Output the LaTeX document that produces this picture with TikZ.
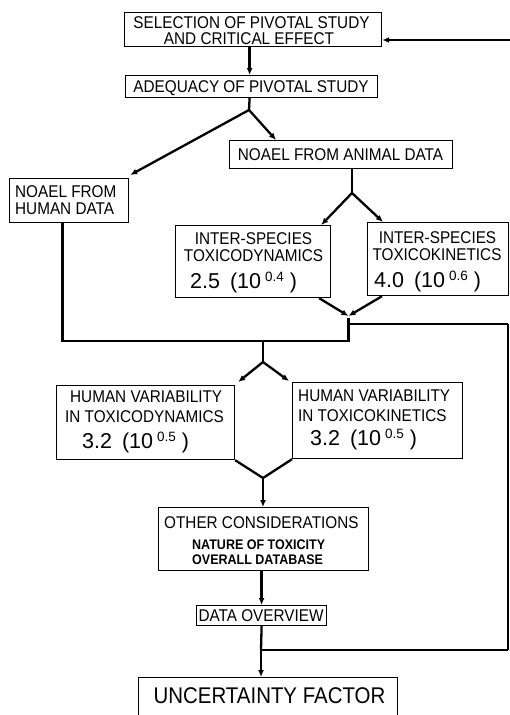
\documentclass[tikz,border=0pt]{standalone}
\usepackage{fontspec}
\setmainfont[FakeStretch=0.9]{Liberation Sans}
\newfontfamily\digitfont{Liberation Sans}
\usetikzlibrary{arrows.meta}
% uncertainty factor with its power-of-ten form, e.g. 2.5 (10^0.4)
\newcommand\factor[2]{{\digitfont\fontsize{21.5}{24}\selectfont #1\hspace{10pt}(10\hspace{4pt}\raisebox{7pt}{\fontsize{13.5}{14}\selectfont #2}\hspace{6pt})}}

\begin{document}
\begin{tikzpicture}[x=1pt,y=-1pt,
  box/.style={draw,line width=1.2pt,inner sep=0pt,anchor=north west},
  hd/.style={inner sep=0pt,font=\fontsize{17}{19}\selectfont},
  sub/.style={inner sep=0pt,font=\bfseries\fontsize{13.9}{15}\selectfont},
  big/.style={inner sep=0pt,font=\fontsize{22.7}{25}\selectfont},
  num/.style={inner sep=0pt,anchor=base west},
  link/.style={line width=2.3pt},
  arr/.style={link,-{Latex[length=7pt,width=6pt]}},
  thinlink/.style={line width=1.1pt},
]
\useasboundingbox (0,0) rectangle (510,715);
\clip (0,0) rectangle (510,715);
\fill[white] (0,0) rectangle (510,715);

% ---------- boxes ----------
\node[box,minimum width=257,minimum height=34] (sel) at (124,12) {};
\node[box,minimum width=252,minimum height=22] (adq) at (125,75) {};
\node[box,minimum width=223,minimum height=28] (ani) at (229,140) {};
\node[box,minimum width=119,minimum height=44] (hum) at (9,178) {};
\node[box,minimum width=155,minimum height=72] (isd) at (175,225) {};
\node[box,minimum width=141,minimum height=73] (isk) at (367,222) {};
\node[box,minimum width=178,minimum height=74] (hvd) at (56,385) {};
\node[box,minimum width=170,minimum height=76] (hvk) at (292,382) {};
\node[box,minimum width=210,minimum height=63] (oth) at (158,507) {};
\node[box,minimum width=130,minimum height=20] (dov) at (196,605) {};
\node[box,minimum width=259,minimum height=60] (uf) at (138,677) {};

% ---------- texts ----------
\node[hd,anchor=base] (sel-a) at (251.5,28.5) {SELECTION OF PIVOTAL STUDY};
\node[hd,anchor=base] (sel-b) at (249,44) {AND CRITICAL EFFECT};
\node[hd,anchor=base] (adq-t) at (251,92) {ADEQUACY OF PIVOTAL STUDY};
\node[hd,anchor=base] (ani-t) at (340.5,160) {NOAEL FROM ANIMAL DATA};
\node[hd,anchor=base west] (hum-a) at (15,197) {NOAEL FROM};
\node[hd,anchor=base west] (hum-b) at (15,214) {HUMAN DATA};
\node[hd,anchor=base] (isd-a) at (253.5,244) {INTER-SPECIES};
\node[hd,anchor=base] (isd-b) at (253.5,261) {TOXICODYNAMICS};
\node[num] (isd-c) at (190,288) {\factor{2.5}{0.4}};
\node[hd,anchor=base] (isk-a) at (437.5,243) {INTER-SPECIES};
\node[hd,anchor=base] (isk-b) at (437,260) {TOXICOKINETICS};
\node[num] (isk-c) at (374,287) {\factor{4.0}{0.6}};
\node[hd,anchor=base west] (hvd-a) at (70,402.5) {HUMAN VARIABILITY};
\node[hd,anchor=base west] (hvd-b) at (65,422.5) {IN TOXICODYNAMICS};
\node[num] (hvd-c) at (82,448) {\factor{3.2}{0.5}};
\node[hd,anchor=base west] (hvk-a) at (298,401.5) {HUMAN VARIABILITY};
\node[hd,anchor=base west] (hvk-b) at (298,421.5) {IN TOXICOKINETICS};
\node[num] (hvk-c) at (310,445) {\factor{3.2}{0.5}};
\node[hd,anchor=base west] (oth-a) at (164,528.5) {OTHER CONSIDERATIONS};
\node[sub,anchor=base west] (oth-b) at (192,549) {NATURE OF TOXICITY};
\node[sub,anchor=base west] (oth-c) at (192,564) {OVERALL DATABASE};
\node[hd,anchor=base] (dov-t) at (261,621.5) {DATA OVERVIEW};
\node[big,anchor=base] (uf-t) at (269.5,703.5) {UNCERTAINTY FACTOR};

% ---------- junctions ----------
\coordinate (fb) at (510,40);
\coordinate (s1) at (249,110);
\coordinate (s2) at (352,193);
\coordinate (j1) at (348.5,316);
\coordinate (j1b) at (348.5,318);
\coordinate (j2) at (348.5,341);
\coordinate (r1) at (508,324);
\coordinate (r2) at (508,650);
\coordinate (s3) at (263,362);
\coordinate (j3) at (263,478);
\coordinate (j4) at (261,650);

% ---------- connectors ----------
\draw[arr] (fb) -- (fb -| sel.east);
\draw[arr] ([xshift=-3.5]sel.south) -- ([xshift=-2]adq.north);
\draw[link] ([xshift=-2]adq.south) -- (s1);
\draw[arr] (s1) -- ([shift={(1,-3)}]hum.north east);
\draw[arr] (s1) -- ([xshift=47]ani.north west);
\draw[link] (ani.south -| s2) -- (s2);
\draw[arr] (s2) -- ([xshift=-10]isd.north east);
\draw[arr] (s2) -- ([xshift=16]isk.north west);
\draw[arr] ([xshift=-12]isd.south east) -- (j1);
\draw[arr] ([xshift=15]isk.south west) -- (j1);
\draw[link] ([xshift=-6.5]hum.south) |- (j2) -- (j1b);
\draw[link] (j1b |- r1) -- (r1);
\draw[thinlink] (r1) -- (r2);
\draw[link] (r2) -- (j4);
\draw[link] (j2 -| s3) -- (s3);
\draw[arr] (s3) -- ([shift={(3,-3)}]hvd.north east);
\draw[arr] (s3) -- ([shift={(-3,-1)}]hvk.north west);
\draw[link] (hvd.south east) -- (j3) -- (hvk.south west);
\draw[arr] (j3) -- (j3 |- oth.north);
\draw[arr] (dov.north |- oth.south) -- (dov.north);
\draw[link] (dov.south) -- (j4);
\draw[arr] (j4) -- (j4 |- uf.north);
\end{tikzpicture}
\end{document}
